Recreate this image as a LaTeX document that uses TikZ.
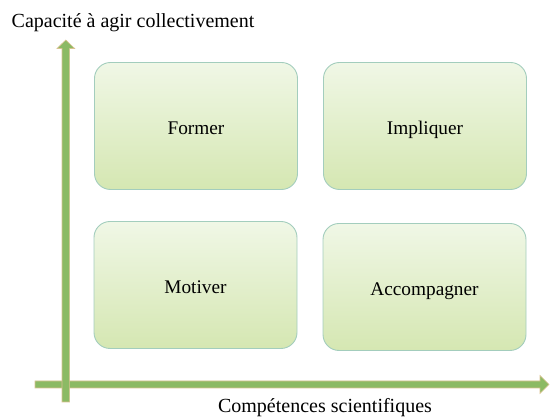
\documentclass[tikz,border=0pt]{standalone}
\usepackage{fontspec}
\setmainfont{Liberation Serif}
\begin{document}
\begin{tikzpicture}[x=1pt,y=-1pt,
  quad/.style={draw=boxedge,line width=0.9pt,rounded corners=16pt,
    top color=boxtop,bottom color=boxbot,minimum width=203pt,minimum height=127pt,
    inner sep=0pt,text height=20pt,text depth=2pt,
    font=\fontsize{19.3}{22}\selectfont,text=black},
  axisarrow/.style={fill=axisfill,draw=axisedge,line width=0.6pt,line join=miter},
  axlabel/.style={font=\fontsize{20}{22}\selectfont,text=black,inner sep=0pt}]
\definecolor{boxtop}{HTML}{F0F7E6}
\definecolor{boxbot}{HTML}{D5E7B2}
\definecolor{boxedge}{HTML}{A3CDBD}
\definecolor{axisfill}{HTML}{8CBA64}
\definecolor{axisedge}{HTML}{D9C290}
\useasboundingbox (0,0) rectangle (550,419);
% horizontal axis
\coordinate (hstart) at (35,384.5);
\coordinate (htip) at (549,384.5);
\draw[axisarrow] (35,381) -- (540,381) -- (540,375.5) -- (htip) -- (540,393.5) -- (540,388) -- (35,388) -- cycle;
% vertical axis
\coordinate (vstart) at (65.8,402);
\coordinate (vtip) at (65.8,40);
\draw[axisarrow] (62,402) -- (62,48.5) -- (57,48.5) -- (vtip) -- (74.6,48.5) -- (69.6,48.5) -- (69.6,402) -- cycle;
% boxes
\node[quad] (former) at (196,126) {Former};
\node[quad] (impliquer) at (425,126) {Impliquer};
\node[quad] (motiver) at (195.5,285) {Motiver};
\node[quad] (accompagner) at (424.5,287) {Accompagner};
% labels
\node[axlabel] (ylab) at (133,23) {Capacité à agir collectivement};
\node[axlabel] (xlab) at (325,408) {Compétences scientifiques};
\end{tikzpicture}
\end{document}
